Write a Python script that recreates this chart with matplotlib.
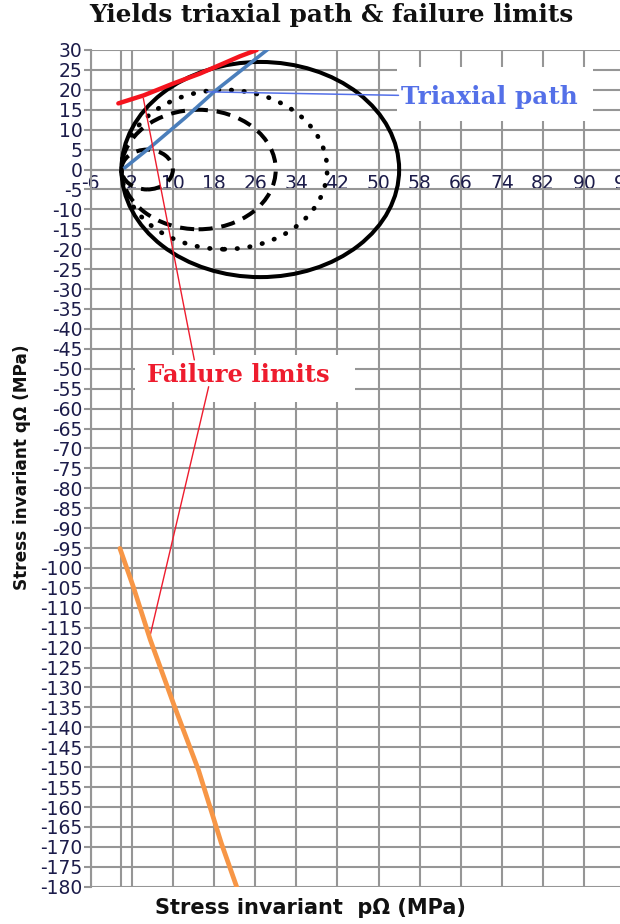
import numpy as np
import matplotlib.pyplot as plt
from matplotlib.patches import Circle, Rectangle

plt.rcParams["axes.unicode_minus"] = False

# yield surfaces in the p-q plane (centre on the p axis, radius in MPa)
yield_centres = [27, 20, 15, 5]
yield_radii = [27, 20, 15, 5]

# triaxial stress path
path_p = [0.7, 6.0, 12.4, 18.0, 28.3]
path_q = [0.5, 6.0, 13.0, 19.5, 30.0]

# upper failure limit
fail_up_p = [-0.6, 4.3, 10.1, 15.3, 19.8, 23.0, 26.3]
fail_up_q = [16.6, 18.6, 21.6, 24.1, 26.6, 28.4, 30.0]

# lower failure limit
fail_lo_p = [-0.3, 2.3, 5.6, 10.1, 15.0, 19.4, 22.4]
fail_lo_q = [-95.1, -104.7, -118.0, -134.0, -150.8, -169.0, -180.0]

x_ticks = list(range(-6, 99, 8))
y_ticks = list(range(-180, 31, 5))

grid_col = "#969696"
tick_col = "#1c1c4a"

fig = plt.figure(figsize=(6.2, 9.24), dpi=100)
ax = fig.add_axes([90.6 / 620, 37.3 / 924, 534.8 / 620, 836.7 / 924])
ax.set_xlim(-6, 98)
ax.set_ylim(-180, 30)

ax.set_xticks(x_ticks)
ax.set_yticks(y_ticks)
ax.grid(True, color=grid_col, linewidth=1.5, zorder=0)
ax.axvline(0, color=grid_col, linewidth=1.5, zorder=0)
ax.set_axisbelow(True)

for side in ["top", "right"]:
    ax.spines[side].set_visible(False)
ax.spines["left"].set_color(grid_col)
ax.spines["left"].set_linewidth(1.5)
ax.spines["bottom"].set_position(("data", 0))
ax.spines["bottom"].set_color(grid_col)
ax.spines["bottom"].set_linewidth(1.5)

ax.tick_params(axis="y", direction="out", length=5, width=1.5, color=grid_col,
               labelsize=13.5, labelcolor=tick_col, pad=1)
ax.tick_params(axis="x", length=0, labelsize=13.5, labelcolor=tick_col, pad=3)

# yield circles
styles = [
    dict(linestyle="-", linewidth=2.9),
    dict(linestyle=(0, (0.1, 2.6)), capstyle="round", linewidth=3.4),
    dict(linestyle=(0, (3.5, 2.2)), linewidth=2.9),
    dict(linestyle=(0, (3.5, 2.2)), linewidth=2.9),
]
for c, r, st in zip(yield_centres, yield_radii, styles):
    ax.add_patch(Circle((c, 0), r, fill=False, edgecolor="black", zorder=3, **st))

ax.plot(path_p, path_q, color="#4A7EBB", linewidth=2.6, zorder=4)
ax.plot(fail_up_p, fail_up_q, color="#F5141E", linewidth=3.2, zorder=4,
        solid_capstyle="round")
ax.plot(fail_lo_p, fail_lo_q, color="#F79646", linewidth=3.4, zorder=4,
        solid_capstyle="round")

# label backgrounds
ax.add_patch(Rectangle((53.6, 12.1), 38.1, 13.6, facecolor="white",
                       edgecolor="none", zorder=2))
ax.add_patch(Rectangle((2.6, -58.3), 42.8, 11.8, facecolor="white",
                       edgecolor="none", zorder=2))

ax.annotate("Triaxial path", xy=(16.6, 19.5), xytext=(71.6, 18.2),
            ha="center", va="center", fontsize=17.8, fontweight="bold",
            family="DejaVu Serif", color="#5470E8", zorder=5,
            arrowprops=dict(arrowstyle="-", color="#5470E8", lw=1.1,
                            shrinkA=0, shrinkB=0))

lbl = ax.annotate("Failure limits", xy=(4.25, 17.9), xytext=(22.8, -51.5),
                  ha="center", va="center", fontsize=17.5, fontweight="bold",
                  family="DejaVu Serif", color="#EE1C2E", zorder=5,
                  arrowprops=dict(arrowstyle="-", color="#EE1C2E", lw=1.0,
                                  shrinkA=0, shrinkB=0, relpos=(0.26, 1)))
ax.annotate("", xy=(5.55, -117.1), xytext=(0.35, 0), textcoords=lbl,
            arrowprops=dict(arrowstyle="-", color="#EE1C2E", lw=1.0,
                            shrinkA=0, shrinkB=0))

fig.text(331 / 620, 1 - 15 / 924, "Yields triaxial path & failure limits",
         ha="center", va="center", fontsize=17.8, fontweight="bold",
         family="DejaVu Serif", color="#111111")
fig.text(310 / 620, 1 - 908 / 924, "Stress invariant  p\u03a9 (MPa)",
         ha="center", va="center", fontsize=15, fontweight="bold", color="#111111")
fig.text(22 / 620, 1 - 467 / 924, "Stress invariant q\u03a9 (MPa)",
         ha="center", va="center", rotation=90, fontsize=12.2, fontweight="bold",
         color="#111111")

fig.savefig("out.png", dpi=100)
